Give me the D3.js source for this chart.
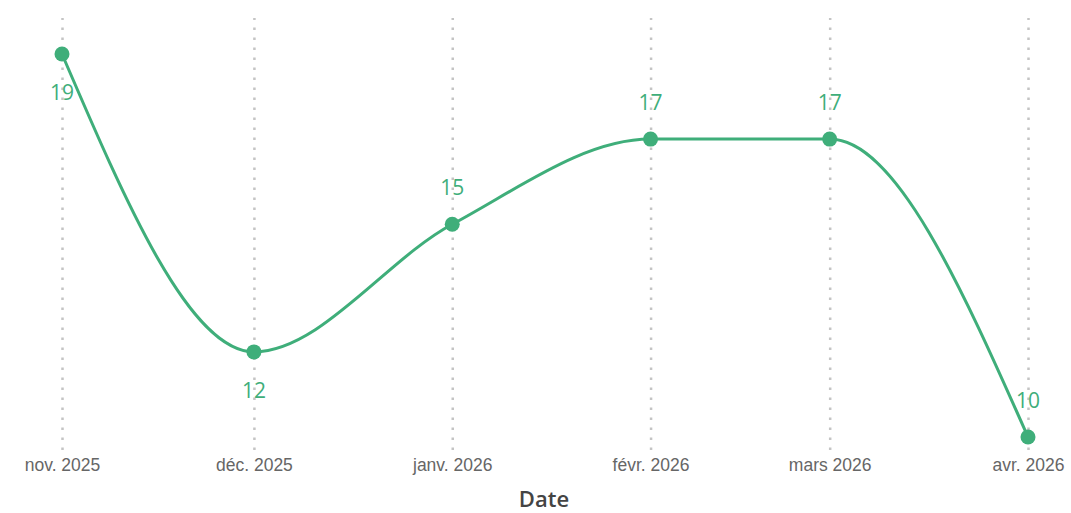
<!DOCTYPE html>
<html>
<head>
<meta charset="utf-8">
<style>
    body { margin: 0; background: #fff; }
    svg { display: block; font-family: "Open Sans", sans-serif; }
    .grid line { stroke: #c4c4c4; stroke-width: 2.5; stroke-dasharray: 2.5,7.5; }
    .grid path { display: none; }
    .xaxis path, .xaxis line { display: none; }
    .xaxis text { fill: #666; font-size: 17.5px; }
    .lbl { fill: #3fae7a; font-size: 21px; text-anchor: middle; }
</style>
</head>
<body>
<svg width="1071" height="513"></svg>
<script src="https://cdnjs.cloudflare.com/ajax/libs/d3/7.8.5/d3.min.js"></script>
<script>
// data
var months = ["2025-11-01", "2025-12-01", "2026-01-01", "2026-02-01", "2026-03-01", "2026-04-01"];
var tickLabels = ["nov. 2025", "déc. 2025", "janv. 2026", "févr. 2026", "mars 2026", "avr. 2026"];
var counts = [19, 12, 15, 17, 17, 10];
// which data labels sit under their point
var labelBelow = ["2025-11-01", "2025-12-01"];

var parse = d3.timeParse("%Y-%m-%d");
var data = months.map(function(m, i) { return { key: m, date: parse(m), value: counts[i] }; });

var svg = d3.select("svg");
var green = "#3fae7a";

var x = d3.scaleTime()
    .domain(d3.extent(data, function(d) { return d.date; }))
    .range([62, 1028]);
var y = d3.scaleLinear()
    .domain([10, 19])
    .range([437, 54]);

// dotted vertical grid
svg.append("g")
    .attr("class", "grid")
    .attr("transform", "translate(0,450)")
    .call(d3.axisBottom(x).tickValues(data.map(function(d) { return d.date; }))
        .tickSize(-432).tickFormat(""));

// x axis labels
svg.append("g")
    .attr("class", "xaxis")
    .attr("transform", "translate(0,451)")
    .call(d3.axisBottom(x).tickValues(data.map(function(d) { return d.date; }))
        .tickSize(0).tickPadding(8)
        .tickFormat(function(d, i) { return tickLabels[i]; }));

svg.append("text")
    .attr("x", 544).attr("y", 507)
    .attr("text-anchor", "middle")
    .attr("fill", "#444")
    .style("font-size", "22px")
    .style("font-weight", "600")
    .text("Date");

var line = d3.line()
    .x(function(d) { return x(d.date); })
    .y(function(d) { return y(d.value); })
    .curve(d3.curveMonotoneX);

svg.append("path")
    .datum(data)
    .attr("d", line)
    .attr("fill", "none")
    .attr("stroke", green)
    .attr("stroke-width", 3);

svg.selectAll("circle.pt")
    .data(data)
    .enter().append("circle")
    .attr("class", "pt")
    .attr("cx", function(d) { return x(d.date); })
    .attr("cy", function(d) { return y(d.value); })
    .attr("r", 7.5)
    .attr("fill", green);

svg.selectAll("text.lbl")
    .data(data)
    .enter().append("text")
    .attr("class", "lbl")
    .attr("x", function(d) { return x(d.date); })
    .attr("y", function(d) {
        return labelBelow.indexOf(d.key) >= 0 ? y(d.value) + 46 : y(d.value) - 29;
    })
    .text(function(d) { return d.value; });
</script>
</body>
</html>
